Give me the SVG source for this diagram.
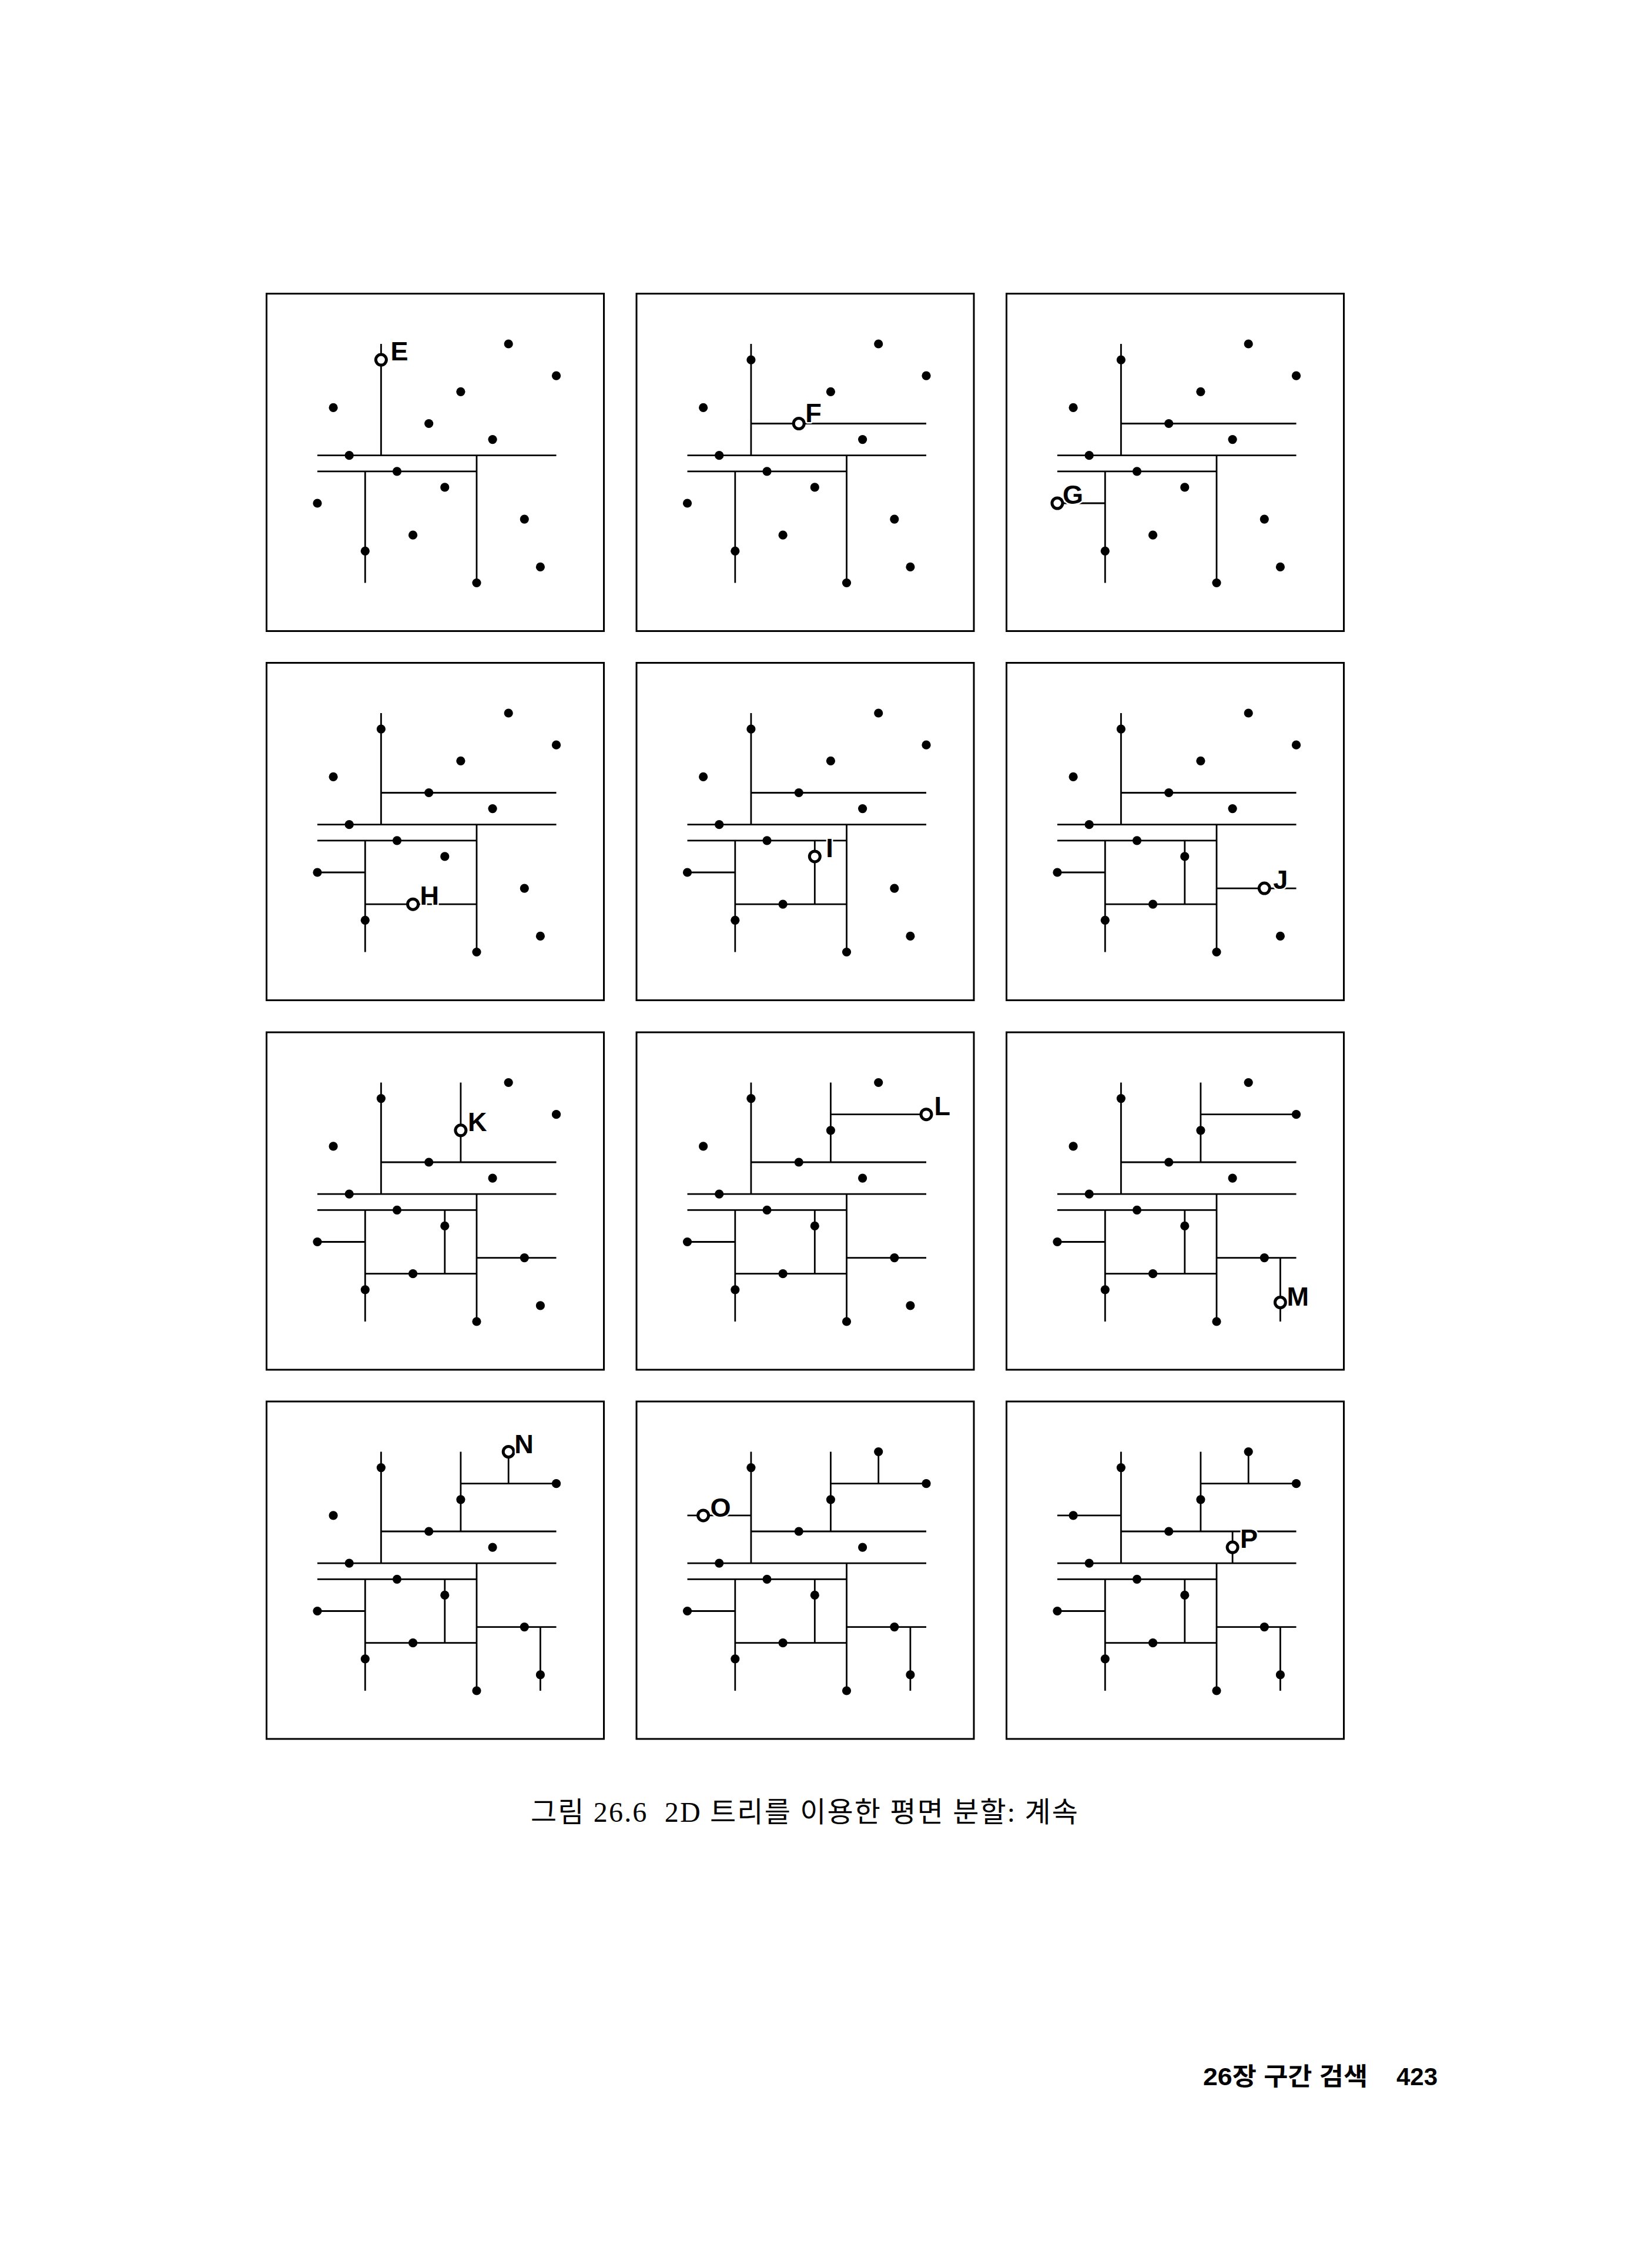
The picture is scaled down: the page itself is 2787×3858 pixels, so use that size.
<svg xmlns="http://www.w3.org/2000/svg" width="2787" height="3858" viewBox="0 0 2787 3858">
<style>
.box{fill:none;stroke:#000;stroke-width:3}
.lines{stroke:#000;stroke-width:2.8;fill:none;stroke-linecap:butt}
.dots{fill:#000}
.open{fill:#fff;stroke:#000;stroke-width:5}
.lbl{font-family:'Liberation Sans',Arial,sans-serif;font-weight:bold;font-size:45px;fill:#000;stroke:#fff;stroke-width:5;paint-order:stroke;stroke-linejoin:round}
.cap{font-family:'Liberation Serif','Noto Sans CJK KR',serif;font-size:48px;fill:#000}
.foot{font-family:'Liberation Sans','Noto Sans CJK KR',sans-serif;font-weight:bold;font-size:42px;fill:#000}
</style>
<defs>
<path id="lA" d="M88,276.7H494.5"/>
<path id="lB" d="M359,276.7V493.5"/>
<path id="lC" d="M88,303.8H359"/>
<path id="lD" d="M169.3,303.8V493.5"/>
<path id="lE" d="M196.4,87V276.7"/>
<path id="lF" d="M196.4,222.5H494.5"/>
<path id="lG" d="M88,358H169.3"/>
<path id="lH" d="M169.3,412.2H359"/>
<path id="lI" d="M304.8,303.8V412.2"/>
<path id="lJ" d="M359,385.1H494.5"/>
<path id="lK" d="M331.9,87V222.5"/>
<path id="lL" d="M331.9,141.2H494.5"/>
<path id="lM" d="M467.4,385.1V493.5"/>
<path id="lN" d="M413.2,87V141.2"/>
<path id="lO" d="M88,195.4H196.4"/>
<path id="lP" d="M386.1,222.5V276.7"/>
<circle id="dA" cx="142.2" cy="276.7" r="7.6"/>
<circle id="dB" cx="359" cy="493.5" r="7.6"/>
<circle id="dC" cx="223.5" cy="303.8" r="7.6"/>
<circle id="dD" cx="169.3" cy="439.3" r="7.6"/>
<circle id="dE" cx="196.4" cy="114.1" r="7.6"/>
<circle id="dF" cx="277.7" cy="222.5" r="7.6"/>
<circle id="dG" cx="88" cy="358" r="7.6"/>
<circle id="dH" cx="250.6" cy="412.2" r="7.6"/>
<circle id="dI" cx="304.8" cy="330.9" r="7.6"/>
<circle id="dJ" cx="440.3" cy="385.1" r="7.6"/>
<circle id="dK" cx="331.9" cy="168.3" r="7.6"/>
<circle id="dL" cx="494.5" cy="141.2" r="7.6"/>
<circle id="dM" cx="467.4" cy="466.4" r="7.6"/>
<circle id="dN" cx="413.2" cy="87" r="7.6"/>
<circle id="dO" cx="115.1" cy="195.4" r="7.6"/>
<circle id="dP" cx="386.1" cy="249.6" r="7.6"/>
</defs>

<g id="panel-E" transform="translate(452,498)">
<rect class="box" x="1.5" y="1.5" width="574" height="574"/>
<g class="lines"><use href="#lA"/><use href="#lB"/><use href="#lC"/><use href="#lD"/><use href="#lE"/></g>
<g class="dots"><use href="#dA"/><use href="#dB"/><use href="#dC"/><use href="#dD"/><use href="#dF"/><use href="#dG"/><use href="#dH"/><use href="#dI"/><use href="#dJ"/><use href="#dK"/><use href="#dL"/><use href="#dM"/><use href="#dN"/><use href="#dO"/><use href="#dP"/></g>
<circle class="open" cx="196.4" cy="114.1" r="9"/>
<text class="lbl" x="212.4" y="115">E</text>
</g>

<g id="panel-F" transform="translate(1081.5,498)">
<rect class="box" x="1.5" y="1.5" width="574" height="574"/>
<g class="lines"><use href="#lA"/><use href="#lB"/><use href="#lC"/><use href="#lD"/><use href="#lE"/><use href="#lF"/></g>
<g class="dots"><use href="#dA"/><use href="#dB"/><use href="#dC"/><use href="#dD"/><use href="#dE"/><use href="#dG"/><use href="#dH"/><use href="#dI"/><use href="#dJ"/><use href="#dK"/><use href="#dL"/><use href="#dM"/><use href="#dN"/><use href="#dO"/><use href="#dP"/></g>
<circle class="open" cx="277.7" cy="222.5" r="9"/>
<text class="lbl" x="288.7" y="219.5">F</text>
</g>

<g id="panel-G" transform="translate(1711,498)">
<rect class="box" x="1.5" y="1.5" width="574" height="574"/>
<g class="lines"><use href="#lA"/><use href="#lB"/><use href="#lC"/><use href="#lD"/><use href="#lE"/><use href="#lF"/><use href="#lG"/></g>
<g class="dots"><use href="#dA"/><use href="#dB"/><use href="#dC"/><use href="#dD"/><use href="#dE"/><use href="#dF"/><use href="#dH"/><use href="#dI"/><use href="#dJ"/><use href="#dK"/><use href="#dL"/><use href="#dM"/><use href="#dN"/><use href="#dO"/><use href="#dP"/></g>
<circle class="open" cx="88" cy="358" r="9"/>
<text class="lbl" x="97" y="359">G</text>
</g>

<g id="panel-H" transform="translate(452,1126)">
<rect class="box" x="1.5" y="1.5" width="574" height="574"/>
<g class="lines"><use href="#lA"/><use href="#lB"/><use href="#lC"/><use href="#lD"/><use href="#lE"/><use href="#lF"/><use href="#lG"/><use href="#lH"/></g>
<g class="dots"><use href="#dA"/><use href="#dB"/><use href="#dC"/><use href="#dD"/><use href="#dE"/><use href="#dF"/><use href="#dG"/><use href="#dI"/><use href="#dJ"/><use href="#dK"/><use href="#dL"/><use href="#dM"/><use href="#dN"/><use href="#dO"/><use href="#dP"/></g>
<circle class="open" cx="250.6" cy="412.2" r="9"/>
<text class="lbl" x="262.6" y="413">H</text>
</g>

<g id="panel-I" transform="translate(1081.5,1126)">
<rect class="box" x="1.5" y="1.5" width="574" height="574"/>
<g class="lines"><use href="#lA"/><use href="#lB"/><use href="#lC"/><use href="#lD"/><use href="#lE"/><use href="#lF"/><use href="#lG"/><use href="#lH"/><use href="#lI"/></g>
<g class="dots"><use href="#dA"/><use href="#dB"/><use href="#dC"/><use href="#dD"/><use href="#dE"/><use href="#dF"/><use href="#dG"/><use href="#dH"/><use href="#dJ"/><use href="#dK"/><use href="#dL"/><use href="#dM"/><use href="#dN"/><use href="#dO"/><use href="#dP"/></g>
<circle class="open" cx="304.8" cy="330.9" r="9"/>
<text class="lbl" x="323.8" y="332">I</text>
</g>

<g id="panel-J" transform="translate(1711,1126)">
<rect class="box" x="1.5" y="1.5" width="574" height="574"/>
<g class="lines"><use href="#lA"/><use href="#lB"/><use href="#lC"/><use href="#lD"/><use href="#lE"/><use href="#lF"/><use href="#lG"/><use href="#lH"/><use href="#lI"/><use href="#lJ"/></g>
<g class="dots"><use href="#dA"/><use href="#dB"/><use href="#dC"/><use href="#dD"/><use href="#dE"/><use href="#dF"/><use href="#dG"/><use href="#dH"/><use href="#dI"/><use href="#dK"/><use href="#dL"/><use href="#dM"/><use href="#dN"/><use href="#dO"/><use href="#dP"/></g>
<circle class="open" cx="440.3" cy="385.1" r="9"/>
<text class="lbl" x="455.3" y="386">J</text>
</g>

<g id="panel-K" transform="translate(452,1754.5)">
<rect class="box" x="1.5" y="1.5" width="574" height="574"/>
<g class="lines"><use href="#lA"/><use href="#lB"/><use href="#lC"/><use href="#lD"/><use href="#lE"/><use href="#lF"/><use href="#lG"/><use href="#lH"/><use href="#lI"/><use href="#lJ"/><use href="#lK"/></g>
<g class="dots"><use href="#dA"/><use href="#dB"/><use href="#dC"/><use href="#dD"/><use href="#dE"/><use href="#dF"/><use href="#dG"/><use href="#dH"/><use href="#dI"/><use href="#dJ"/><use href="#dL"/><use href="#dM"/><use href="#dN"/><use href="#dO"/><use href="#dP"/></g>
<circle class="open" cx="331.9" cy="168.3" r="9"/>
<text class="lbl" x="343.9" y="169.5">K</text>
</g>

<g id="panel-L" transform="translate(1081.5,1754.5)">
<rect class="box" x="1.5" y="1.5" width="574" height="574"/>
<g class="lines"><use href="#lA"/><use href="#lB"/><use href="#lC"/><use href="#lD"/><use href="#lE"/><use href="#lF"/><use href="#lG"/><use href="#lH"/><use href="#lI"/><use href="#lJ"/><use href="#lK"/><use href="#lL"/></g>
<g class="dots"><use href="#dA"/><use href="#dB"/><use href="#dC"/><use href="#dD"/><use href="#dE"/><use href="#dF"/><use href="#dG"/><use href="#dH"/><use href="#dI"/><use href="#dJ"/><use href="#dK"/><use href="#dM"/><use href="#dN"/><use href="#dO"/><use href="#dP"/></g>
<circle class="open" cx="494.5" cy="141.2" r="9"/>
<text class="lbl" x="508" y="142">L</text>
</g>

<g id="panel-M" transform="translate(1711,1754.5)">
<rect class="box" x="1.5" y="1.5" width="574" height="574"/>
<g class="lines"><use href="#lA"/><use href="#lB"/><use href="#lC"/><use href="#lD"/><use href="#lE"/><use href="#lF"/><use href="#lG"/><use href="#lH"/><use href="#lI"/><use href="#lJ"/><use href="#lK"/><use href="#lL"/><use href="#lM"/></g>
<g class="dots"><use href="#dA"/><use href="#dB"/><use href="#dC"/><use href="#dD"/><use href="#dE"/><use href="#dF"/><use href="#dG"/><use href="#dH"/><use href="#dI"/><use href="#dJ"/><use href="#dK"/><use href="#dL"/><use href="#dN"/><use href="#dO"/><use href="#dP"/></g>
<circle class="open" cx="467.4" cy="461" r="9"/>
<text class="lbl" x="478.4" y="466.5">M</text>
</g>

<g id="panel-N" transform="translate(452,2382.5)">
<rect class="box" x="1.5" y="1.5" width="574" height="574"/>
<g class="lines"><use href="#lA"/><use href="#lB"/><use href="#lC"/><use href="#lD"/><use href="#lE"/><use href="#lF"/><use href="#lG"/><use href="#lH"/><use href="#lI"/><use href="#lJ"/><use href="#lK"/><use href="#lL"/><use href="#lM"/><use href="#lN"/></g>
<g class="dots"><use href="#dA"/><use href="#dB"/><use href="#dC"/><use href="#dD"/><use href="#dE"/><use href="#dF"/><use href="#dG"/><use href="#dH"/><use href="#dI"/><use href="#dJ"/><use href="#dK"/><use href="#dL"/><use href="#dM"/><use href="#dO"/><use href="#dP"/></g>
<circle class="open" cx="413.2" cy="87" r="9"/>
<text class="lbl" x="423.2" y="89">N</text>
</g>

<g id="panel-O" transform="translate(1081.5,2382.5)">
<rect class="box" x="1.5" y="1.5" width="574" height="574"/>
<g class="lines"><use href="#lA"/><use href="#lB"/><use href="#lC"/><use href="#lD"/><use href="#lE"/><use href="#lF"/><use href="#lG"/><use href="#lH"/><use href="#lI"/><use href="#lJ"/><use href="#lK"/><use href="#lL"/><use href="#lM"/><use href="#lN"/><use href="#lO"/></g>
<g class="dots"><use href="#dA"/><use href="#dB"/><use href="#dC"/><use href="#dD"/><use href="#dE"/><use href="#dF"/><use href="#dG"/><use href="#dH"/><use href="#dI"/><use href="#dJ"/><use href="#dK"/><use href="#dL"/><use href="#dM"/><use href="#dN"/><use href="#dP"/></g>
<circle class="open" cx="115.1" cy="195.4" r="9"/>
<text class="lbl" x="127.1" y="197">O</text>
</g>

<g id="panel-P" transform="translate(1711,2382.5)">
<rect class="box" x="1.5" y="1.5" width="574" height="574"/>
<g class="lines"><use href="#lA"/><use href="#lB"/><use href="#lC"/><use href="#lD"/><use href="#lE"/><use href="#lF"/><use href="#lG"/><use href="#lH"/><use href="#lI"/><use href="#lJ"/><use href="#lK"/><use href="#lL"/><use href="#lM"/><use href="#lN"/><use href="#lO"/><use href="#lP"/></g>
<g class="dots"><use href="#dA"/><use href="#dB"/><use href="#dC"/><use href="#dD"/><use href="#dE"/><use href="#dF"/><use href="#dG"/><use href="#dH"/><use href="#dI"/><use href="#dJ"/><use href="#dK"/><use href="#dL"/><use href="#dM"/><use href="#dN"/><use href="#dO"/></g>
<circle class="open" cx="386.1" cy="249.6" r="9"/>
<text class="lbl" x="399.1" y="250.5">P</text>
</g>

<g id="caption">
<text class="cap" x="903" y="3099" textLength="931" lengthAdjust="spacing" xml:space="preserve">그림 26.6  2D 트리를 이용한 평면 분할: 계속</text>
</g>
<g id="footer">
<text class="foot" x="2047" y="3547" textLength="280" lengthAdjust="spacingAndGlyphs">26장 구간 검색</text>
<text class="foot" x="2376" y="3547">423</text>
</g>
</svg>
